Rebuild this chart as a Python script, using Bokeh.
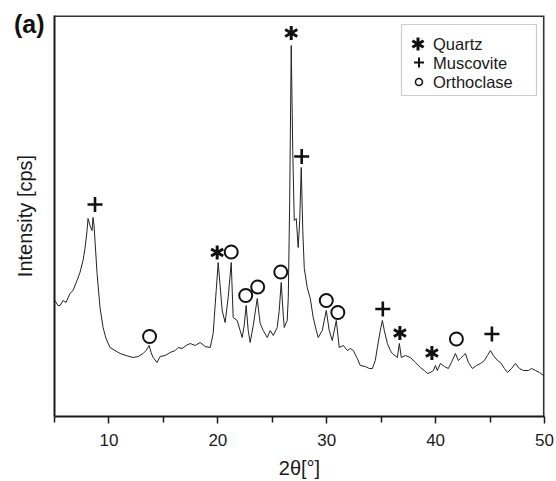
from bokeh.plotting import figure
from bokeh.models import FixedTicker, Label, BoxAnnotation, Range1d
from bokeh.embed import file_html
from bokeh.resources import INLINE

# ---- data ----
two_theta = [5.05, 5.32, 5.51, 5.78, 6.06, 6.42, 6.70, 7.07, 7.34, 7.62, 7.80, 7.99, 8.08, 8.26, 8.45,
             8.54, 8.63, 8.91, 9.18, 9.46, 9.73, 10.10, 10.56, 11.02, 11.57, 12.22, 12.68, 13.14, 13.41,
             13.69, 13.87, 14.06, 14.42, 14.70, 15.16, 15.62, 16.08, 16.35, 16.72, 17.09, 17.46, 17.92,
             18.38, 18.84, 19.30, 19.57, 19.85, 20.03, 20.21, 20.40, 20.67, 20.95, 21.23, 21.41, 21.78,
             22.05, 22.24, 22.42, 22.60, 22.79, 22.97, 23.25, 23.62, 23.80, 23.89, 24.17, 24.54, 24.81,
             25.09, 25.45, 25.64, 25.82, 26.01, 26.10, 26.37, 26.47, 26.60, 26.74, 26.88, 27.02, 27.20,
             27.38, 27.52, 27.66, 27.80, 27.94, 28.21, 28.49, 28.76, 29.04, 29.22, 29.59, 29.96, 30.23,
             30.51, 30.88, 31.15, 31.52, 31.89, 32.17, 32.44, 32.81, 33.08, 33.54, 33.91, 34.19, 34.46,
             34.65, 34.92, 35.11, 35.29, 35.57, 35.84, 36.03, 36.49, 36.67, 36.85, 37.22, 37.68, 38.14,
             38.60, 38.97, 39.24, 39.52, 39.80, 39.98, 40.16, 40.44, 40.81, 41.17, 41.45, 41.82, 42.09,
             42.28, 42.55, 42.74, 43.01, 43.38, 43.75, 44.12, 44.48, 44.76, 45.04, 45.31, 45.68, 45.95,
             46.32, 46.60, 46.97, 47.33, 47.70, 48.07, 48.53, 48.81, 49.17, 49.54, 49.91]
intensity = [116, 111, 111, 116, 114, 123, 126, 136, 144, 156, 168, 186, 198, 191, 186,
             199, 191, 143, 109, 89, 78, 69, 66, 63, 61, 59, 60, 63, 66,
             71, 64, 59, 54, 60, 61, 64, 66, 69, 68, 71, 73, 71,
             74, 70, 69, 83, 126, 154, 131, 106, 94, 119, 154, 99, 96,
             86, 79, 91, 111, 86, 74, 91, 118, 101, 93, 86, 79, 86,
             81, 89, 106, 134, 101, 89, 96, 119, 216, 371, 266, 196, 198,
             169, 196, 249, 186, 148, 129, 118, 99, 86, 79, 86, 106, 86,
             76, 96, 69, 71, 66, 68, 66, 58, 51, 50, 48, 48, 56,
             69, 86, 96, 86, 73, 66, 63, 59, 73, 59, 61, 59, 54,
             49, 46, 43, 44, 46, 51, 46, 53, 50, 48, 54, 63, 56,
             58, 61, 63, 54, 48, 51, 53, 56, 61, 66, 61, 56, 54,
             48, 44, 48, 53, 48, 46, 46, 48, 46, 44, 41]

quartz_x = [19.94, 26.74, 36.72, 39.66]
quartz_y = [164, 383.5, 83.5, 63.5]
muscovite_x = [8.72, 27.70, 35.15, 45.17]
muscovite_y = [212, 260, 107.5, 82.5]
orthoclase_x = [13.73, 21.23, 22.56, 23.66, 25.78, 29.96, 31.02, 41.91]
orthoclase_y = [80, 164.5, 121, 129.5, 144.5, 116, 104, 77.5]

legend_labels = ["Quartz", "Muscovite", "Orthoclase"]
x_ticks = [10, 20, 30, 40, 50]
x_minor = [5, 15, 25, 35, 45]
panel_tag = "(a)"

# ---- figure ----
W, H = 556, 481
BL, BR, BT, BB = 54, 12, 15, 65
FW = W - BL - BR
FH = H - BT - BB
X0, X1, Y0, Y1 = 5, 50, 0, FH
FONT = "Liberation Sans"
INK = "#1a1a1a"

p = figure(width=W, height=H, output_backend="svg", toolbar_location=None,
           x_range=Range1d(X0, X1), y_range=Range1d(Y0, Y1),
           min_border_left=BL, min_border_right=BR, min_border_top=BT, min_border_bottom=BB)
p.grid.visible = False
p.outline_line_color = None
p.background_fill_color = "white"
p.border_fill_color = "white"

def sx(px):  # frame-relative pixels -> data x
    return X0 + px * (X1 - X0) / FW

def sy(py):  # frame-relative pixels from top -> data y
    return Y1 - py * (Y1 - Y0) / FH

# frame top and right edges (half of the width is clipped by the frame)
p.line([X0, X1, X1], [Y1, Y1, Y0], line_color="#333333", line_width=3.2)

# x axis
xa = p.xaxis[0]
xa.ticker = FixedTicker(ticks=x_ticks, minor_ticks=x_minor)
xa.axis_label = "2θ[°]"
xa.axis_label_text_font = FONT
xa.axis_label_text_font_size = "20px"
xa.axis_label_text_font_style = "normal"
xa.axis_label_text_color = INK
xa.axis_label_standoff = 8
xa.major_label_text_font = FONT
xa.major_label_text_font_size = "17px"
xa.major_label_text_color = INK
xa.major_label_standoff = 10
xa.axis_line_width = 2
xa.axis_line_color = INK
xa.major_tick_in = 0
xa.major_tick_out = 7
xa.minor_tick_in = 0
xa.minor_tick_out = 6
xa.major_tick_line_width = 1.5
xa.minor_tick_line_width = 1.5
xa.major_tick_line_color = INK
xa.minor_tick_line_color = INK

# y axis: no ticks or numbers; its single label slot carries the panel tag "(a)"
tag_y = sy(8)
ya = p.yaxis[0]
ya.ticker = FixedTicker(ticks=[tag_y], minor_ticks=[])
ya.major_label_overrides = {tag_y: panel_tag}
ya.major_label_text_font = FONT
ya.major_label_text_font_size = "25px"
ya.major_label_text_font_style = "bold"
ya.major_label_text_color = "#111111"
ya.major_label_standoff = 10
ya.major_tick_line_color = None
ya.minor_tick_line_color = None
ya.major_tick_out = 0
ya.major_tick_in = 0
ya.axis_label = "Intensity [cps]"
ya.axis_label_text_font = FONT
ya.axis_label_text_font_size = "20px"
ya.axis_label_text_font_style = "normal"
ya.axis_label_text_color = INK
ya.axis_label_standoff = -25
ya.axis_line_width = 2
ya.axis_line_color = INK

# pattern
p.line(two_theta, intensity, line_color="#222222", line_width=1)

# phase markers
for ang in (90, 30, 150):
    p.scatter(quartz_x, quartz_y, marker="dash", size=14, angle=ang, angle_units="deg",
              line_color="#111111", line_width=3)
p.scatter(muscovite_x, muscovite_y, marker="cross", size=15, line_color="#111111", line_width=2.6)
p.scatter(orthoclase_x, orthoclase_y, marker="circle", size=13, fill_color=None,
          line_color="#111111", line_width=2)

# legend (manual)
box = BoxAnnotation(left=sx(347), right=sx(482), top=sy(9), bottom=sy(80),
                    fill_color=None, line_color="#555555", line_width=1.2)
p.add_layout(box)
rows = [28.5, 47, 66.5]
for ang in (90, 30, 150):
    p.scatter([sx(363.5)], [sy(rows[0])], marker="dash", size=13, angle=ang, angle_units="deg",
              line_color="#111111", line_width=3)
p.scatter([sx(364.5)], [sy(rows[1])], marker="cross", size=10, line_color="#111111", line_width=2)
p.scatter([sx(364.5)], [sy(rows[2])], marker="circle", size=7, fill_color=None,
          line_color="#111111", line_width=1.5)
for lab, r in zip(legend_labels, rows):
    p.add_layout(Label(x=sx(378.5), y=sy(r), text=lab, text_font=FONT, text_font_size="16.5px",
                       text_color=INK, text_baseline="middle"))

open("out.html", "w").write(file_html(p, INLINE))
